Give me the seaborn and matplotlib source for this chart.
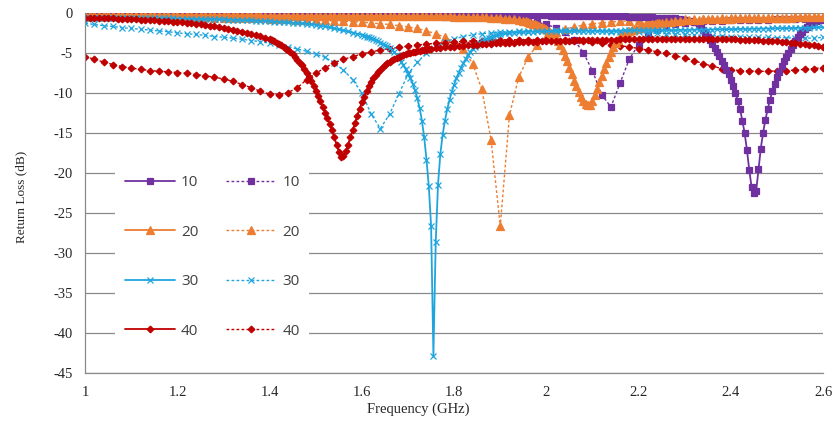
import numpy as np
import matplotlib
matplotlib.use("Agg")
import matplotlib.pyplot as plt
import seaborn as sns


def freq_grid(*parts):
    """Frequency axis (GHz) built from (start, stop, step) pieces."""
    return np.round(np.concatenate(
        [np.arange(a, b + step / 2, step) for a, b, step in parts]), 3)


# ---- frequency axes (GHz) ----
f10_solid = freq_grid((1.00, 2.32, 0.01), (2.33, 2.60, 0.005))
f20_solid = freq_grid((1.00, 1.95, 0.01), (1.955, 2.25, 0.005), (2.26, 2.60, 0.01))
f30_solid = freq_grid((1.00, 1.60, 0.01), (1.605, 1.90, 0.005), (1.91, 2.60, 0.01))
f40_solid = freq_grid((1.00, 1.40, 0.01), (1.405, 1.75, 0.005), (1.76, 2.60, 0.01))
f_dashed = freq_grid((1.00, 2.60, 0.02))

# ---- return loss (dB), solid curves ----
rl10_solid = [
    -0.10, -0.10, -0.10, -0.11, -0.11, -0.11, -0.12, -0.12, -0.12, -0.12,
    -0.12, -0.13, -0.13, -0.13, -0.13, -0.14, -0.14, -0.14, -0.14, -0.15,
    -0.15, -0.15, -0.15, -0.15, -0.16, -0.16, -0.16, -0.16, -0.16, -0.17,
    -0.17, -0.17, -0.17, -0.17, -0.18, -0.18, -0.18, -0.18, -0.18, -0.18,
    -0.19, -0.19, -0.19, -0.19, -0.19, -0.20, -0.20, -0.20, -0.20, -0.20,
    -0.20, -0.20, -0.21, -0.21, -0.21, -0.21, -0.21, -0.21, -0.21, -0.21,
    -0.21, -0.21, -0.22, -0.22, -0.22, -0.22, -0.22, -0.22, -0.22, -0.22,
    -0.22, -0.22, -0.22, -0.22, -0.23, -0.23, -0.23, -0.23, -0.23, -0.23,
    -0.23, -0.23, -0.23, -0.24, -0.24, -0.24, -0.24, -0.24, -0.24, -0.24,
    -0.25, -0.25, -0.25, -0.25, -0.26, -0.26, -0.26, -0.26, -0.27, -0.27,
    -0.27, -0.28, -0.28, -0.29, -0.29, -0.30, -0.30, -0.31, -0.31, -0.32,
    -0.33, -0.34, -0.35, -0.36, -0.37, -0.38, -0.39, -0.40, -0.42, -0.44,
    -0.46, -0.48, -0.50, -0.52, -0.54, -0.56, -0.58, -0.61, -0.65, -0.70,
    -0.78, -0.92, -1.12,
    -1.4, -1.7, -2.1, -2.5, -2.9, -3.3, -3.8, -4.3, -4.8, -5.3,
    -5.9, -6.5, -7.1, -7.6, -8.3, -9.1, -10.0, -10.9, -12.0, -13.4,
    -15.0, -17.1, -19.6, -21.7, -22.4, -22.2, -19.5, -16.9, -14.9, -13.3,
    -12.0, -10.8, -9.7, -8.8, -8.0, -7.3, -6.6, -6.0, -5.4, -4.9,
    -4.4, -3.9, -3.4, -3.0, -2.6, -2.3, -2.0, -1.7, -1.5, -1.3,
    -1.15, -1.0, -0.9, -0.8, -0.75,
]
rl20_solid = [
    -0.20, -0.20, -0.20, -0.20, -0.21, -0.21, -0.21, -0.21, -0.21, -0.22,
    -0.22, -0.22, -0.22, -0.22, -0.23, -0.23, -0.23, -0.23, -0.23, -0.24,
    -0.24, -0.24, -0.24, -0.24, -0.25, -0.25, -0.25, -0.25, -0.25, -0.26,
    -0.26, -0.26, -0.26, -0.26, -0.27, -0.27, -0.27, -0.27, -0.27, -0.28,
    -0.28, -0.28, -0.28, -0.28, -0.29, -0.29, -0.29, -0.29, -0.29, -0.30,
    -0.30, -0.30, -0.30, -0.30, -0.31, -0.31, -0.31, -0.31, -0.32, -0.32,
    -0.32, -0.32, -0.33, -0.33, -0.33, -0.33, -0.34, -0.34, -0.34, -0.35,
    -0.35, -0.35, -0.36, -0.36, -0.37, -0.37, -0.38, -0.38, -0.39, -0.40,
    -0.41, -0.42, -0.43, -0.44, -0.46, -0.48, -0.50, -0.52, -0.55, -0.58,
    -0.62, -0.66, -0.71, -0.77, -0.84, -0.92,
    -1.0, -1.1, -1.2, -1.3, -1.4, -1.5, -1.6, -1.7, -1.85, -2.0,
    -2.2, -2.45, -2.75, -3.1, -3.5, -4.0, -4.6, -5.3, -6.0, -6.8,
    -7.6, -8.4, -9.1, -9.8, -10.4, -10.9, -11.3, -11.5, -11.4, -10.9,
    -10.2, -9.4, -8.6, -7.8, -7.0, -6.2, -5.5, -4.8, -4.2, -3.7,
    -3.3, -3.0, -2.75, -2.55, -2.4, -2.25, -2.1, -2.0, -1.9, -1.8,
    -1.7, -1.62, -1.55, -1.48, -1.42, -1.36, -1.3, -1.25, -1.2, -1.16,
    -1.10, -1.04, -0.98, -0.93, -0.89, -0.85, -0.82, -0.79, -0.76, -0.74,
    -0.72, -0.70, -0.68, -0.67, -0.66, -0.65, -0.64, -0.63, -0.62, -0.61,
    -0.60, -0.59, -0.58, -0.57, -0.56, -0.55, -0.54, -0.53, -0.52, -0.51,
    -0.50, -0.49, -0.48, -0.47, -0.46,
]
rl30_solid = [
    -0.55, -0.55, -0.56, -0.56, -0.57, -0.57, -0.58, -0.58, -0.59, -0.59,
    -0.60, -0.60, -0.61, -0.61, -0.62, -0.62, -0.63, -0.63, -0.64, -0.65,
    -0.66, -0.67, -0.68, -0.69, -0.70, -0.71, -0.72, -0.73, -0.74, -0.75,
    -0.77, -0.79, -0.81, -0.83, -0.85, -0.87, -0.89, -0.91, -0.94, -0.97,
    -1.00, -1.03, -1.06, -1.10, -1.14, -1.18, -1.22, -1.26, -1.31, -1.38,
    -1.45, -1.55, -1.65, -1.76, -1.88, -2.00, -2.13, -2.27, -2.41, -2.56,
    -2.70,
    -2.8, -2.9, -3.0, -3.1, -3.2, -3.35, -3.5, -3.65, -3.8, -3.95,
    -4.1, -4.3, -4.55, -4.85, -5.2, -5.6, -6.05, -6.5, -7.0, -7.5,
    -8.1, -8.8, -9.6, -10.6, -11.8, -13.4, -15.5, -18.3, -21.6, -26.6,
    -42.8, -28.6, -21.4, -17.6, -15.2, -13.4, -12.0, -10.8, -9.8, -8.9,
    -8.1, -7.4, -6.8, -6.2, -5.7, -5.2, -4.8, -4.45, -4.15, -3.9,
    -3.7, -3.5, -3.35, -3.2, -3.05, -2.95, -2.85, -2.75, -2.65, -2.6,
    -2.52, -2.46, -2.41, -2.37, -2.34, -2.31, -2.29, -2.27, -2.25,
    -2.24, -2.23, -2.22, -2.21, -2.20, -2.20, -2.19, -2.19, -2.18, -2.18,
    -2.18, -2.17, -2.17, -2.17, -2.16, -2.16, -2.16, -2.15, -2.15, -2.15,
    -2.14, -2.14, -2.13, -2.13, -2.12, -2.12, -2.11, -2.11, -2.10, -2.10,
    -2.09, -2.08, -2.07, -2.06, -2.05, -2.04, -2.03, -2.02, -2.01, -2.00,
    -1.99, -1.98, -1.97, -1.96, -1.95, -1.94, -1.93, -1.92, -1.91, -1.90,
    -1.89, -1.88, -1.87, -1.86, -1.85, -1.83, -1.81, -1.79, -1.77, -1.75,
    -1.72,
]
rl40_solid = [
    -0.60, -0.60, -0.61, -0.62, -0.63, -0.64, -0.65, -0.67, -0.69, -0.71,
    -0.73, -0.75, -0.78, -0.81, -0.84, -0.87, -0.91, -0.95, -0.99, -1.04,
    -1.09, -1.14, -1.20, -1.26, -1.33, -1.40, -1.48, -1.56, -1.65, -1.74,
    -1.84, -1.94, -2.05, -2.16, -2.28, -2.41, -2.55, -2.70, -2.86, -3.03,
    -3.20,
    -3.35, -3.5, -3.65, -3.82, -4.0, -4.2, -4.4, -4.62, -4.85, -5.1,
    -5.45, -5.8, -6.15, -6.5, -6.9, -7.4, -7.9, -8.5, -9.1, -9.7,
    -10.3, -11.0, -11.7, -12.4, -13.1, -13.8, -14.6, -15.5, -16.4, -17.3,
    -17.9, -17.8, -17.2, -16.4, -15.5, -14.6, -13.7, -12.8, -11.9, -11.1,
    -10.4, -9.7, -9.1, -8.55, -8.1, -7.7, -7.35, -7.05, -6.75, -6.5,
    -6.27, -6.06, -5.87, -5.7, -5.55, -5.42, -5.3, -5.2, -5.1, -5.02,
    -4.94, -4.87, -4.8, -4.74, -4.68, -4.63, -4.58, -4.53, -4.49, -4.45,
    -4.38, -4.32, -4.26, -4.20,
    -4.15, -4.10, -4.05, -4.00, -3.96, -3.92, -3.88, -3.84, -3.80, -3.77,
    -3.74, -3.71, -3.68, -3.65, -3.62, -3.60, -3.58, -3.56, -3.54, -3.52,
    -3.50, -3.48, -3.46, -3.44, -3.42, -3.40, -3.38, -3.36, -3.35, -3.34,
    -3.33, -3.32, -3.31, -3.30, -3.29, -3.28, -3.27, -3.26, -3.25, -3.24,
    -3.23, -3.22, -3.21, -3.20, -3.20, -3.19, -3.19, -3.18, -3.18, -3.18,
    -3.18, -3.18, -3.18, -3.19, -3.19, -3.20, -3.20, -3.21, -3.22, -3.23,
    -3.24, -3.26, -3.28, -3.30, -3.32, -3.35, -3.38, -3.41, -3.44, -3.48,
    -3.52, -3.56, -3.61, -3.66, -3.72, -3.78, -3.85, -3.92, -4.00, -4.08,
    -4.16,
]

# ---- return loss (dB), dashed curves (0.02 GHz steps) ----
rl10_dashed = [
    -0.20, -0.20, -0.20, -0.21, -0.21, -0.21, -0.22, -0.22, -0.22, -0.23,
    -0.23, -0.23, -0.24, -0.24, -0.24, -0.25, -0.25, -0.26, -0.26, -0.27,
    -0.27, -0.28, -0.28, -0.29, -0.29, -0.30, -0.30, -0.31, -0.31, -0.32,
    -0.33, -0.33, -0.34, -0.35, -0.36, -0.37, -0.38, -0.39, -0.40, -0.42,
    -0.44, -0.46, -0.49, -0.52, -0.56, -0.61, -0.68, -0.78, -0.92, -1.12,
    -1.4, -1.8, -2.4, -3.3, -4.9, -7.2, -10.2, -11.7, -8.7, -5.7,
    -3.9, -2.7, -2.0, -1.6, -1.35, -1.2, -1.1, -1.02, -0.96, -0.92,
    -0.88, -0.85, -0.82, -0.80, -0.78, -0.76, -0.74, -0.72, -0.70, -0.68,
    -0.66,
]
rl20_dashed = [
    -0.30, -0.30, -0.32, -0.33, -0.35, -0.37, -0.38, -0.40, -0.42, -0.44,
    -0.46, -0.48, -0.50, -0.52, -0.54, -0.56, -0.58, -0.60, -0.62, -0.64,
    -0.66, -0.70, -0.74, -0.78, -0.82, -0.86, -0.90, -0.95, -1.00, -1.05,
    -1.1, -1.2, -1.3, -1.4, -1.55, -1.7, -1.9, -2.2, -2.55, -3.0,
    -3.6, -4.5, -6.3, -9.5, -15.8, -26.6, -12.7, -8.0, -5.5, -4.0,
    -3.0, -2.4, -2.0, -1.7, -1.5, -1.3, -1.2, -1.1, -1.0, -0.95,
    -0.90, -0.85, -0.80, -0.78, -0.75, -0.72, -0.70, -0.68, -0.66, -0.64,
    -0.62, -0.60, -0.58, -0.56, -0.55, -0.54, -0.53, -0.52, -0.51, -0.50,
    -0.50,
]
rl30_dashed = [
    -1.25, -1.4, -1.55, -1.65, -1.8, -1.9, -2.0, -2.1, -2.2, -2.3,
    -2.45, -2.55, -2.65, -2.75, -2.9, -3.0, -3.1, -3.25, -3.4, -3.55,
    -3.75, -3.95, -4.2, -4.45, -4.75, -5.1, -5.5, -6.2, -7.1, -8.3,
    -10.0, -12.6, -14.4, -12.6, -10.1, -7.6, -6.1, -5.0, -4.2, -3.6,
    -3.2, -2.9, -2.7, -2.55, -2.45, -2.35, -2.3, -2.25, -2.2, -2.2,
    -2.15, -2.15, -2.15, -2.15, -2.2, -2.2, -2.25, -2.3, -2.3, -2.35,
    -2.4, -2.45, -2.5, -2.55, -2.6, -2.65, -2.7, -2.75, -2.8, -2.85,
    -2.9, -2.9, -2.95, -3.0, -3.0, -3.05, -3.05, -3.1, -3.1, -3.1,
    -3.0,
]
rl40_dashed = [
    -5.4, -5.75, -6.1, -6.4, -6.65, -6.85, -7.0, -7.15, -7.25, -7.3,
    -7.4, -7.5, -7.65, -7.8, -8.0, -8.2, -8.5, -8.9, -9.3, -9.75,
    -10.1, -10.15, -9.9, -9.3, -8.3, -7.5, -6.8, -6.2, -5.75, -5.4,
    -5.1, -4.8, -4.6, -4.4, -4.25, -4.1, -3.95, -3.85, -3.75, -3.65,
    -3.6, -3.5, -3.45, -3.4, -3.35, -3.3, -3.3, -3.3, -3.3, -3.3,
    -3.3, -3.3, -3.35, -3.4, -3.5, -3.6, -3.75, -3.9, -4.05, -4.2,
    -4.4, -4.6, -4.8, -5.0, -5.3, -5.6, -5.9, -6.3, -6.6, -6.9,
    -7.05, -7.15, -7.2, -7.25, -7.25, -7.2, -7.15, -7.1, -7.0, -6.9,
    -6.8,
]

labels = ["10", "20", "30", "40"]
colors = ["#7030A0", "#ED7D31", "#1FA5DE", "#C00000"]
markers = ["s", "^", "x", "D"]
marker_sizes = [4.6, 5.2, 5.0, 3.4]

solid_f = [f10_solid, f20_solid, f30_solid, f40_solid]
solid_rl = [rl10_solid, rl20_solid, rl30_solid, rl40_solid]
dashed_rl = [rl10_dashed, rl20_dashed, rl30_dashed, rl40_dashed]

sns.set_style("white")
plt.rcParams["font.family"] = ["Liberation Serif", "DejaVu Serif"]
plt.rcParams["axes.unicode_minus"] = False

fig = plt.figure(figsize=(8.36, 4.29), dpi=100)
ax = fig.add_axes([0.102, 0.1298, 0.8825, 0.8392])

dashed_handles = []
for lab, c, m, ms, rl in zip(labels, colors, markers, marker_sizes, dashed_rl):
    sns.lineplot(x=f_dashed, y=rl, ax=ax, color=c, marker=m, markersize=ms,
                 markeredgecolor=c, markerfacecolor=c, markeredgewidth=0.9,
                 linestyle=(0, (2.0, 1.6)), linewidth=1.0, sort=False,
                 estimator=None, label=lab)
    dashed_handles.append(ax.lines[-1])

solid_handles = []
for lab, c, m, ms, f, rl in zip(labels, colors, markers, marker_sizes, solid_f, solid_rl):
    sns.lineplot(x=f, y=rl, ax=ax, color=c, marker=m, markersize=ms,
                 markeredgecolor=c, markerfacecolor=c, markeredgewidth=0.9,
                 linestyle="-", linewidth=1.3, sort=False,
                 estimator=None, label=lab)
    solid_handles.append(ax.lines[-1])

ax.set_xlim(1.0, 2.6)
ax.set_ylim(-45, 0)
xt = np.round(np.arange(1.0, 2.61, 0.2), 1)
ax.set_xticks(xt)
ax.set_xticklabels([f"{v:g}" for v in xt])
ax.set_yticks(np.arange(-45, 1, 5))

grid_c = "#8A8A8A"
ax.yaxis.grid(True, color=grid_c, linewidth=0.9)
ax.xaxis.grid(False)
ax.set_axisbelow(True)
for side in ("top", "right"):
    ax.spines[side].set_visible(False)
for side in ("left", "bottom"):
    ax.spines[side].set_color(grid_c)
    ax.spines[side].set_linewidth(0.9)

ax.tick_params(axis="y", direction="out", length=4, width=0.9, color=grid_c,
               pad=5, labelsize=10.5, labelcolor="#262626")
ax.tick_params(axis="x", length=0, pad=9, labelsize=10.5, labelcolor="#262626")

ax.set_xlabel("Frequency (GHz)", fontsize=10.5, color="#262626")
ax.xaxis.set_label_coords(0.451, -0.082)
ax.set_ylabel("Return Loss (dB)", fontsize=9.5, color="#262626")
ax.yaxis.set_label_coords(-0.078, 0.49)

leg = ax.legend(solid_handles + dashed_handles, labels + labels, ncol=2,
                loc="center", bbox_to_anchor=(0.172, 0.323),
                frameon=True, facecolor="white", edgecolor="none", framealpha=1,
                handlelength=3.3, handletextpad=0.4, columnspacing=1.8,
                labelspacing=2.25, borderpad=0.6,
                prop={"family": ["Open Sans", "DejaVu Sans"], "size": 11})
for t in leg.get_texts():
    t.set_color("#404040")

fig.savefig("out.png", dpi=100)
